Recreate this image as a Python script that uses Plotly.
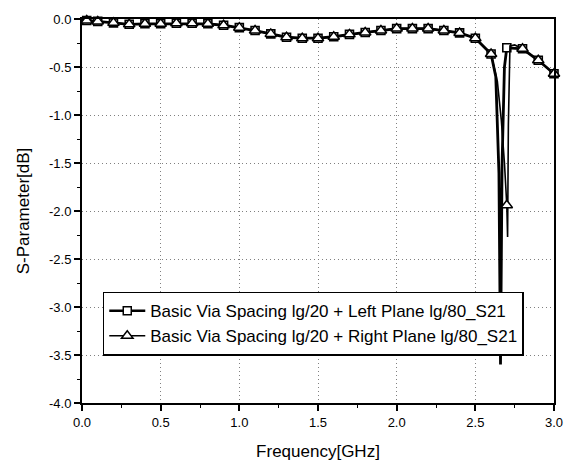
import plotly.graph_objects as go

# ---- data ----
marker_freq = [0.03, 0.1, 0.2, 0.3, 0.4, 0.5, 0.6, 0.7, 0.8, 0.9, 1.0,
               1.1, 1.2, 1.3, 1.4, 1.5, 1.6, 1.7, 1.8, 1.9, 2.0,
               2.1, 2.2, 2.3, 2.4, 2.5, 2.6, 2.7, 2.8, 2.9, 3.0]
left_s21 = [-0.015, -0.025, -0.04, -0.055, -0.05, -0.05, -0.045, -0.045, -0.05, -0.065, -0.09,
            -0.12, -0.155, -0.19, -0.20, -0.20, -0.185, -0.16, -0.14, -0.12, -0.10,
            -0.10, -0.10, -0.12, -0.145, -0.20, -0.365, -0.30, -0.31, -0.43, -0.57]
right_s21 = [-0.015, -0.025, -0.04, -0.055, -0.05, -0.05, -0.045, -0.045, -0.05, -0.065, -0.09,
             -0.12, -0.155, -0.19, -0.20, -0.20, -0.185, -0.16, -0.14, -0.12, -0.10,
             -0.10, -0.10, -0.12, -0.145, -0.20, -0.365, -1.94, -0.31, -0.43, -0.57]

# extra points of the resonance dips (no markers drawn there)
left_dip_freq = [2.63, 2.65, 2.66, 2.67, 2.685]
left_dip_s21 = [-0.6, -1.6, -3.6, -1.5, -0.5]
right_dip_freq = [2.64, 2.665, 2.685, 2.705, 2.71, 2.72, 2.75]
right_dip_s21 = [-0.65, -1.05, -1.5, -2.27, -1.1, -0.28, -0.27]

x_ticks = [0.0, 0.5, 1.0, 1.5, 2.0, 2.5, 3.0]
y_ticks = [0.0, -0.5, -1.0, -1.5, -2.0, -2.5, -3.0, -3.5, -4.0]

name_left = "Basic Via Spacing lg/20 + Left Plane lg/80_S21"
name_right = "Basic Via Spacing lg/20 + Right Plane lg/80_S21"


def merged(f1, v1, f2, v2):
    pts = sorted(zip(list(f1) + list(f2), list(v1) + list(v2)))
    return [p[0] for p in pts], [p[1] for p in pts]


lx, ly = merged(marker_freq, left_s21, left_dip_freq, left_dip_s21)
rx, ry = merged(marker_freq, right_s21, right_dip_freq, right_dip_s21)

FONT = "Liberation Sans, Arial, sans-serif"

fig = go.Figure()
# square series
fig.add_trace(go.Scatter(x=lx, y=ly, mode="lines", line=dict(color="black", width=2.8),
                         showlegend=False, cliponaxis=False, hoverinfo="skip"))
fig.add_trace(go.Scatter(x=marker_freq, y=left_s21, mode="markers",
                         marker=dict(symbol="square", size=8, color="white",
                                     line=dict(color="black", width=1.6)),
                         showlegend=False, cliponaxis=False))
# triangle series
fig.add_trace(go.Scatter(x=rx, y=ry, mode="lines", line=dict(color="black", width=1.6),
                         showlegend=False, cliponaxis=False, hoverinfo="skip"))
fig.add_trace(go.Scatter(x=marker_freq, y=right_s21, mode="markers",
                         marker=dict(symbol="triangle-up", size=10, color="white",
                                     line=dict(color="black", width=1.5)),
                         showlegend=False, cliponaxis=False))
# legend entries
fig.add_trace(go.Scatter(x=[None], y=[None], mode="lines+markers", name=name_left,
                         line=dict(color="black", width=2.4),
                         marker=dict(symbol="square", size=8, color="white",
                                     line=dict(color="black", width=1.5))))
fig.add_trace(go.Scatter(x=[None], y=[None], mode="lines+markers", name=name_right,
                         line=dict(color="black", width=1.4),
                         marker=dict(symbol="triangle-up", size=10, color="white",
                                     line=dict(color="black", width=1.5))))

axis_common = dict(
    showline=True, linecolor="black", linewidth=2, mirror=True,
    ticks="outside", ticklen=6, tickwidth=1.5, tickcolor="black",
    showgrid=True, gridcolor="#808080", griddash="1px,3px", gridwidth=1,
    zeroline=False, tickfont=dict(family=FONT, size=13, color="black"),
    minor=dict(ticks="outside", ticklen=3, tickwidth=1, tickcolor="black", showgrid=False),
)

fig.update_xaxes(range=[0, 3.0], tickvals=x_ticks, ticktext=[f"{v:.1f}" for v in x_ticks],
                 minor_dtick=0.25, minor_tick0=0,
                 title=dict(text="Frequency[GHz]", standoff=17,
                            font=dict(family=FONT, size=17, color="black")),
                 **axis_common)
fig.update_yaxes(range=[-4.0, 0.0], tickvals=y_ticks, ticktext=[f"{v:.1f}" for v in y_ticks],
                 minor_dtick=0.25, minor_tick0=0,
                 title=dict(text="S-Parameter[dB]", standoff=15,
                            font=dict(family=FONT, size=17, color="black")),
                 **axis_common)

fig.update_layout(
    width=578, height=470,
    margin=dict(l=82, r=24, t=12, b=65),
    paper_bgcolor="white", plot_bgcolor="white",
    font=dict(family=FONT, color="black"),
    legend=dict(x=0.044, y=0.29, xanchor="left", yanchor="top",
                bgcolor="white", bordercolor="black", borderwidth=1.5,
                font=dict(family=FONT, size=17, color="black"),
                tracegroupgap=0, itemwidth=36),
)

fig.write_html("out.html", config={"displayModeBar": False},
               post_script="document.body.style.margin='0px';")
